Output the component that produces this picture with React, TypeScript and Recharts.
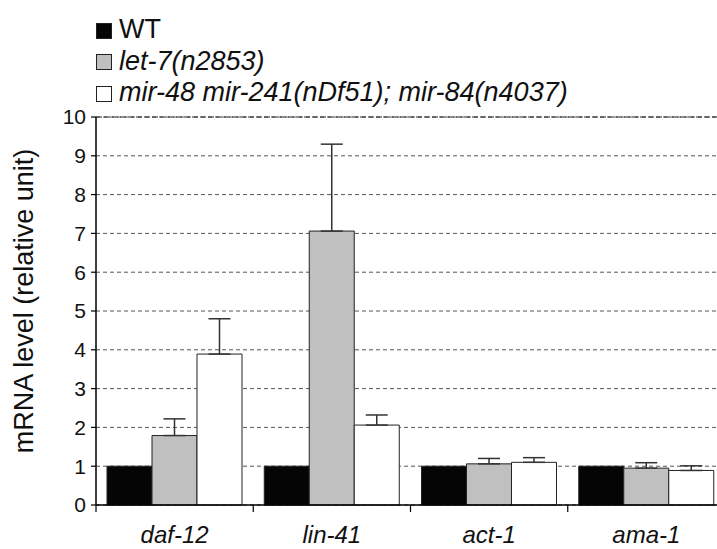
import React from 'react';
import { BarChart, Bar, XAxis, YAxis, CartesianGrid, ErrorBar, ReferenceLine } from 'recharts';

const categories = ['daf-12', 'lin-41', 'act-1', 'ama-1'];
const wtValues = [1, 1, 1, 1];
const let7Values = [1.79, 7.06, 1.06, 0.95];
const let7Errors = [0.43, 2.24, 0.14, 0.14];
const mirValues = [3.89, 2.06, 1.1, 0.89];
const mirErrors = [0.91, 0.26, 0.12, 0.12];
const yTicks = [0, 1, 2, 3, 4, 5, 6, 7, 8, 9, 10];

const series = [
  { key: 'wt', label: 'WT', fill: '#050505', italic: false },
  { key: 'let7', label: 'let-7(n2853)', fill: '#c0c0c0', italic: true },
  { key: 'mir', label: 'mir-48 mir-241(nDf51); mir-84(n4037)', fill: '#ffffff', italic: true },
];

const data = categories.map((name, i) => ({
  name,
  wt: wtValues[i],
  let7: let7Values[i],
  let7Err: [0, let7Errors[i]],
  mir: mirValues[i],
  mirErr: [0, mirErrors[i]],
}));

const FONT = '"Liberation Sans", Arial, Helvetica, sans-serif';

const CategoryTick = (props: any) => {
  const { x, y, payload, width, visibleTicksCount } = props;
  const half = payload.offset ?? width / (2 * visibleTicksCount);
  return (
    <g>
      <line x1={x - half} x2={x - half} y1={y} y2={y + 7} stroke="#000" strokeWidth={1.2} />
      <text x={x} y={y + 38} textAnchor="middle" fontSize={24} fontStyle="italic" fontFamily={FONT} fill="#111">
        {payload.value}
      </text>
    </g>
  );
};

const YTitle = () => (
  <text
    x={33}
    y={301}
    transform="rotate(-90 33 301)"
    textAnchor="middle"
    fontSize={27}
    fontFamily={FONT}
    fill="#111"
  >
    mRNA level (relative unit)
  </text>
);

const App: React.FC = () => {
  return (
    <div style={{ position: 'absolute', left: 0, top: 0, width: 717, height: 549, overflow: 'hidden', background: '#fff' }}>
      <div style={{ position: 'absolute', left: 96, top: 14, fontFamily: FONT, fontSize: 27, color: '#111', lineHeight: '31.5px' }}>
        {series.map((s) => (
          <div key={s.key} style={{ display: 'flex', alignItems: 'center', height: 31.5 }}>
            <span
              style={{
                display: 'inline-block',
                width: 14,
                height: 14,
                background: s.fill,
                border: '1px solid #222',
                marginRight: 7,
                marginTop: 2,
              }}
            />
            <span style={{ fontStyle: s.italic ? 'italic' : 'normal', whiteSpace: 'nowrap' }}>{s.label}</span>
          </div>
        ))}
      </div>
      <BarChart
        width={725}
        height={549}
        data={data}
        margin={{ top: 117, right: 0, bottom: 0, left: 0 }}
        barCategoryGap={11}
        barGap={0}
        style={{ position: 'absolute', left: 0, top: 0 }}
      >
        <CartesianGrid horizontal vertical={false} stroke="#555" strokeDasharray="4 3" strokeWidth={1} />
        <ReferenceLine y={10} stroke="#222" strokeDasharray="6 2" strokeWidth={1.2} />
        <XAxis
          dataKey="name"
          height={44}
          axisLine={{ stroke: '#000', strokeWidth: 1.5 }}
          tickLine={false}
          tickSize={0}
          tickMargin={0}
          interval={0}
          tick={<CategoryTick />}
        />
        <YAxis
          width={96}
          domain={[0, 10]}
          ticks={yTicks}
          interval={0}
          axisLine={{ stroke: '#000', strokeWidth: 1.5 }}
          tickLine={{ stroke: '#000', strokeWidth: 1.2 }}
          tickSize={5}
          tickMargin={5}
          tick={{ fontSize: 21, fill: '#111', fontFamily: FONT }}
          label={{ content: <YTitle /> }}
        />
        <Bar dataKey="wt" fill={series[0].fill} stroke="#222" strokeWidth={1} isAnimationActive={false} />
        <Bar dataKey="let7" fill={series[1].fill} stroke="#222" strokeWidth={1} isAnimationActive={false}>
          <ErrorBar dataKey="let7Err" direction="y" width={11} stroke="#333" strokeWidth={1.5} isAnimationActive={false} />
        </Bar>
        <Bar dataKey="mir" fill={series[2].fill} stroke="#222" strokeWidth={1} isAnimationActive={false}>
          <ErrorBar dataKey="mirErr" direction="y" width={11} stroke="#333" strokeWidth={1.5} isAnimationActive={false} />
        </Bar>
      </BarChart>
    </div>
  );
};

export default App;
